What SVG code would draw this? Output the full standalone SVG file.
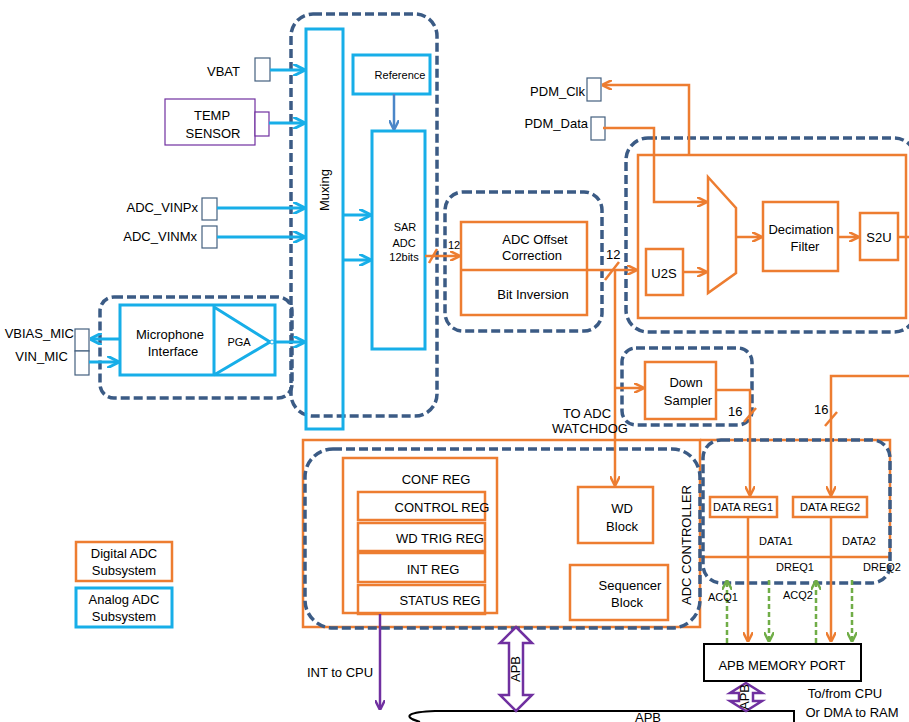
<svg xmlns="http://www.w3.org/2000/svg" width="909" height="722" viewBox="0 0 909 722">
<defs>
<style>
text{font-family:"Liberation Sans",Arial,sans-serif;font-size:13px;fill:#000}
.s{font-size:11px}
.o{fill:none;stroke:#ED7D31;stroke-width:2.5}
.ow{fill:#fff;stroke:#ED7D31;stroke-width:2.5}
.b{fill:none;stroke:#17AEE8;stroke-width:3}
.bw{fill:#fff;stroke:#17AEE8;stroke-width:3}
.pin{fill:#fff;stroke:#44607F;stroke-width:1.2}
.d{fill:none;stroke:#3B5B85;stroke-width:3.5;stroke-dasharray:9 4}
.p{fill:none;stroke:#7030A0;stroke-width:2.5}
.g{fill:none;stroke:#70AD47;stroke-width:2.5;stroke-dasharray:5 3}
</style>
<marker id="ao" viewBox="0 0 10 10" refX="9" refY="5" markerWidth="4" markerHeight="4" orient="auto"><path d="M0,0L10,5L0,10" fill="none" stroke="#ED7D31" stroke-width="2.5"/></marker>
<marker id="ab" viewBox="0 0 10 10" refX="9" refY="5" markerWidth="4" markerHeight="4" orient="auto"><path d="M0,0L10,5L0,10" fill="none" stroke="#17AEE8" stroke-width="2.5"/></marker>
<marker id="ab2" viewBox="0 0 10 10" refX="9" refY="5" markerWidth="4" markerHeight="4" orient="auto"><path d="M0,0L10,5L0,10" fill="none" stroke="#4A86C8" stroke-width="2.5"/></marker>
<marker id="ag" viewBox="0 0 10 10" refX="9" refY="5" markerWidth="4" markerHeight="4" orient="auto"><path d="M0,0L10,5L0,10" fill="none" stroke="#70AD47" stroke-width="2.5"/></marker>
<marker id="ap" viewBox="0 0 10 10" refX="9" refY="5" markerWidth="4" markerHeight="4" orient="auto"><path d="M0,0L10,5L0,10" fill="none" stroke="#7030A0" stroke-width="2.5"/></marker>
</defs>
<rect width="909" height="722" fill="#fff"/>

<g id="analog">
<rect class="d" x="291" y="14" width="146" height="402" rx="22"/>
<rect class="b" x="306" y="29" width="37" height="400"/>
<text x="329" y="190" transform="rotate(-90 329 190)" text-anchor="middle" font-size="14">Muxing</text>
<rect class="b" x="353" y="55" width="77" height="39"/>
<text x="400" y="79" text-anchor="middle" class="s">Reference</text>
<rect class="b" x="372" y="131" width="53" height="218"/>
<text x="405" y="231" text-anchor="middle" class="s" font-size="12">SAR</text>
<text x="404" y="247" text-anchor="middle" class="s" font-size="12">ADC</text>
<text x="404" y="261" text-anchor="middle" class="s" font-size="12">12bits</text>
</g>
<g id="vbat"><text x="240" y="76" text-anchor="end" font-size="15">VBAT</text><rect class="pin" x="255" y="58" width="15" height="23"/></g>
<g id="temp"><rect x="165" y="99" width="90" height="46" fill="#fff" stroke="#7030A0" stroke-width="1.2"/><rect x="255" y="112" width="14" height="24" fill="#fff" stroke="#7030A0" stroke-width="1.2"/>
<text x="212" y="120" text-anchor="middle" font-size="15">TEMP</text><text x="213" y="138" text-anchor="middle" font-size="15">SENSOR</text></g>
<g id="vinp"><text x="198" y="212" text-anchor="end">ADC_VINPx</text><rect class="pin" x="202" y="198" width="15" height="22"/></g>
<g id="vinm"><text x="197" y="241" text-anchor="end">ADC_VINMx</text><rect class="pin" x="202" y="226" width="15" height="22"/></g>
<g id="mic">
<rect class="d" x="100" y="297" width="192" height="101" rx="14"/>
<rect class="bw" x="120" y="305" width="155" height="70"/>
<path class="b" d="M214,305V375M214,307L270,342L214,375"/>
<circle cx="272" cy="342" r="2" fill="#fff" stroke="#17AEE8"/>
<text x="170" y="339" text-anchor="middle" font-size="15">Microphone</text><text x="173" y="356" text-anchor="middle" font-size="15">Interface</text>
<text x="239" y="346" text-anchor="middle" class="s">PGA</text>
<rect class="pin" x="75" y="329" width="14" height="22"/><rect class="pin" x="75" y="351" width="14" height="24"/>
<text x="74" y="338" text-anchor="end" font-size="11">VBIAS_MIC</text><text x="68" y="361" text-anchor="end" font-size="11">VIN_MIC</text>
</g>

<g id="offset">
<rect class="d" x="445" y="192" width="157" height="139" rx="18"/>
<rect class="ow" x="461" y="222" width="126" height="93"/>
<line class="o" x1="461" y1="270" x2="587" y2="270"/>
<text x="535" y="244" text-anchor="middle">ADC Offset</text><text x="532" y="260" text-anchor="middle">Correction</text>
<text x="533" y="299" text-anchor="middle">Bit Inversion</text>
</g>
<g id="pdm">
<rect class="d" x="626" y="138" width="290" height="194" rx="22"/>
<rect class="o" x="638" y="155" width="268" height="163"/>
<path class="ow" d="M708,177L736,208L736,273L708,293Z"/>
<rect class="ow" x="646" y="249" width="37" height="46"/><text x="664" y="278" text-anchor="middle">U2S</text>
<rect class="ow" x="763" y="202" width="75" height="69"/><text x="801" y="234" text-anchor="middle">Decimation</text><text x="805" y="251" text-anchor="middle">Filter</text>
<rect class="ow" x="860" y="213" width="38" height="47"/><text x="879" y="242" text-anchor="middle">S2U</text>
</g>
<g id="pdmpins"><text x="585" y="96" text-anchor="end" font-size="12">PDM_Clk</text><rect class="pin" x="587" y="78" width="14" height="23"/>
<text x="588" y="128" text-anchor="end" font-size="12">PDM_Data</text><rect class="pin" x="591" y="117" width="14" height="23"/></g>
<g id="down">
<rect class="d" x="622" y="348" width="130" height="77" rx="14"/>
<rect class="ow" x="645" y="362" width="71" height="57"/>
<text x="686" y="387" text-anchor="middle">Down</text><text x="688" y="405" text-anchor="middle">Sampler</text>
</g>

<g id="ctrl">
<rect class="o" x="303" y="440" width="397" height="187"/>
<path class="o" d="M700,440H890V557H700"/>
<rect class="d" x="305" y="449" width="395" height="179" rx="28"/>
<rect class="d" x="703" y="440" width="187" height="143" rx="18"/>
<rect class="o" x="343" y="458" width="154" height="155"/>
<text x="436" y="484" text-anchor="middle" font-size="14">CONF REG</text>
<rect class="o" x="358" y="492" width="127" height="28"/><text x="442" y="512" text-anchor="middle" font-size="14">CONTROL REG</text>
<rect class="o" x="358" y="523" width="127" height="28"/><text x="440" y="543" text-anchor="middle" font-size="14">WD TRIG REG</text>
<rect class="o" x="358" y="553" width="127" height="29"/><text x="433" y="574" text-anchor="middle" font-size="14">INT REG</text>
<rect class="o" x="358" y="585" width="127" height="29"/><text x="440" y="605" text-anchor="middle" font-size="14">STATUS REG</text>
<rect class="o" x="578" y="487" width="75" height="56"/><text x="622" y="513" text-anchor="middle" font-size="14">WD</text><text x="622" y="531" text-anchor="middle" font-size="14">Block</text>
<rect class="o" x="570" y="565" width="98" height="55"/><text x="630" y="590" text-anchor="middle" font-size="14">Sequencer</text><text x="627" y="607" text-anchor="middle" font-size="14">Block</text>
<text x="691" y="545" transform="rotate(-90 691 545)" text-anchor="middle" font-size="14">ADC CONTROLLER</text>
<rect class="ow" x="710" y="497" width="67" height="20"/><text x="743" y="511" text-anchor="middle" class="s">DATA REG1</text>
<rect class="ow" x="793" y="497" width="74" height="20"/><text x="830" y="511" text-anchor="middle" class="s">DATA REG2</text>
</g>
<g id="memport"><rect x="704" y="644" width="157" height="37" fill="#fff" stroke="#000" stroke-width="2"/><text x="782" y="670" text-anchor="middle" font-size="15">APB MEMORY PORT</text></g>
<g id="apbbus"><path d="M794,722V711H435C410,712 400,716 420,722" fill="#fff" stroke="#000" stroke-width="2"/><text x="648" y="722" text-anchor="middle" font-size="12">APB</text></g>
<g id="legend">
<rect class="o" x="76" y="542" width="96" height="39"/><text x="124" y="558" text-anchor="middle">Digital ADC</text><text x="124" y="575" text-anchor="middle">Subsystem</text>
<rect class="b" x="76" y="588" width="96" height="39" stroke-width="2.5"/><text x="124" y="604" text-anchor="middle">Analog ADC</text><text x="124" y="621" text-anchor="middle">Subsystem</text>
</g>

<g id="connectors">
<line class="b" x1="270" y1="70" x2="304" y2="70" marker-end="url(#ab)"/>
<line class="b" x1="269" y1="123" x2="304" y2="123" marker-end="url(#ab)"/>
<line class="b" x1="217" y1="208" x2="304" y2="208" marker-end="url(#ab)"/>
<line class="b" x1="217" y1="237" x2="304" y2="237" marker-end="url(#ab)"/>
<line class="b" x1="274" y1="342" x2="304" y2="342" marker-end="url(#ab)"/>
<line class="b" x1="343" y1="215" x2="370" y2="215" marker-end="url(#ab)"/>
<line class="b" x1="343" y1="260" x2="370" y2="260" marker-end="url(#ab)"/>
<line x1="394" y1="94" x2="394" y2="129" stroke="#4A86C8" stroke-width="2.5" marker-end="url(#ab2)"/>
<line class="b" x1="120" y1="339" x2="91" y2="339" marker-end="url(#ab)"/>
<line class="b" x1="89" y1="362" x2="118" y2="362" marker-end="url(#ab)"/>
<line class="o" x1="425" y1="256" x2="459" y2="256" marker-end="url(#ao)"/>
<line class="o" x1="429" y1="263" x2="437" y2="249"/>
<text x="448" y="249" class="s">12</text>
<line class="o" x1="587" y1="270" x2="636" y2="270" marker-end="url(#ao)"/>
<line class="o" x1="605" y1="280" x2="619" y2="262"/>
<text x="606" y="259" font-size="12">12</text>
<path class="o" d="M615,270V485" marker-end="url(#ao)"/>
<path class="o" d="M615,388H643" marker-end="url(#ao)"/>
<path class="o" d="M689,155V85H603" marker-end="url(#ao)"/>
<path class="o" d="M603,128H654V202H706" marker-end="url(#ao)"/>
<line class="o" x1="683" y1="272" x2="706" y2="272" marker-end="url(#ao)"/>
<line class="o" x1="736" y1="237" x2="761" y2="237" marker-end="url(#ao)"/>
<line class="o" x1="838" y1="237" x2="858" y2="237" marker-end="url(#ao)"/>
<line class="o" x1="898" y1="237" x2="909" y2="237"/>
<path class="o" d="M716,390H750V495" marker-end="url(#ao)"/>
<line class="o" x1="744" y1="422" x2="756" y2="408"/>
<text x="728" y="416" font-size="12">16</text>
<path class="o" d="M909,376H831V495" marker-end="url(#ao)"/>
<line class="o" x1="825" y1="426" x2="837" y2="412"/>
<text x="814" y="414" font-size="12">16</text>
<text x="587" y="418" text-anchor="middle" font-size="12">TO ADC</text>
<text x="590" y="433" text-anchor="middle" font-size="12">WATCHDOG</text>
<line class="o" x1="748" y1="517" x2="748" y2="641" marker-end="url(#ao)"/>
<line class="o" x1="831" y1="517" x2="831" y2="641" marker-end="url(#ao)"/>
<line class="g" x1="727" y1="643" x2="727" y2="581" marker-end="url(#ag)"/>
<line class="g" x1="769" y1="580" x2="769" y2="641" marker-end="url(#ag)"/>
<line class="g" x1="816" y1="643" x2="816" y2="581" marker-end="url(#ag)"/>
<line class="g" x1="852" y1="580" x2="852" y2="641" marker-end="url(#ag)"/>
<text x="776" y="545" text-anchor="middle" class="s">DATA1</text>
<text x="859" y="545" text-anchor="middle" class="s">DATA2</text>
<text x="795" y="571" text-anchor="middle" class="s">DREQ1</text>
<text x="882" y="571" text-anchor="middle" class="s">DREQ2</text>
<text x="723" y="601" text-anchor="middle" class="s">ACQ1</text>
<text x="798" y="599" text-anchor="middle" class="s">ACQ2</text>
<line class="p" x1="380" y1="614" x2="380" y2="709" marker-end="url(#ap)"/>
<text x="340" y="677" text-anchor="middle">INT to CPU</text>
<path d="M516,627L532,643H523V695H532L516,711L500,695H509V643H500Z" fill="#fff" stroke="#7030A0" stroke-width="2.5"/>
<text x="520" y="669" transform="rotate(-90 520 669)" text-anchor="middle" font-size="10">APB</text>
<path d="M746,683L762,693H753V701H762L746,711L730,701H739V693H730Z" fill="#fff" stroke="#7030A0" stroke-width="2.5"/>
<text x="749" y="697" transform="rotate(-90 749 697)" text-anchor="middle" font-size="8">APB</text>
<text x="845" y="698" text-anchor="middle" font-size="12">To/from CPU</text>
<text x="852" y="717" text-anchor="middle" font-size="12">Or DMA to RAM</text>
</g>
</svg>
